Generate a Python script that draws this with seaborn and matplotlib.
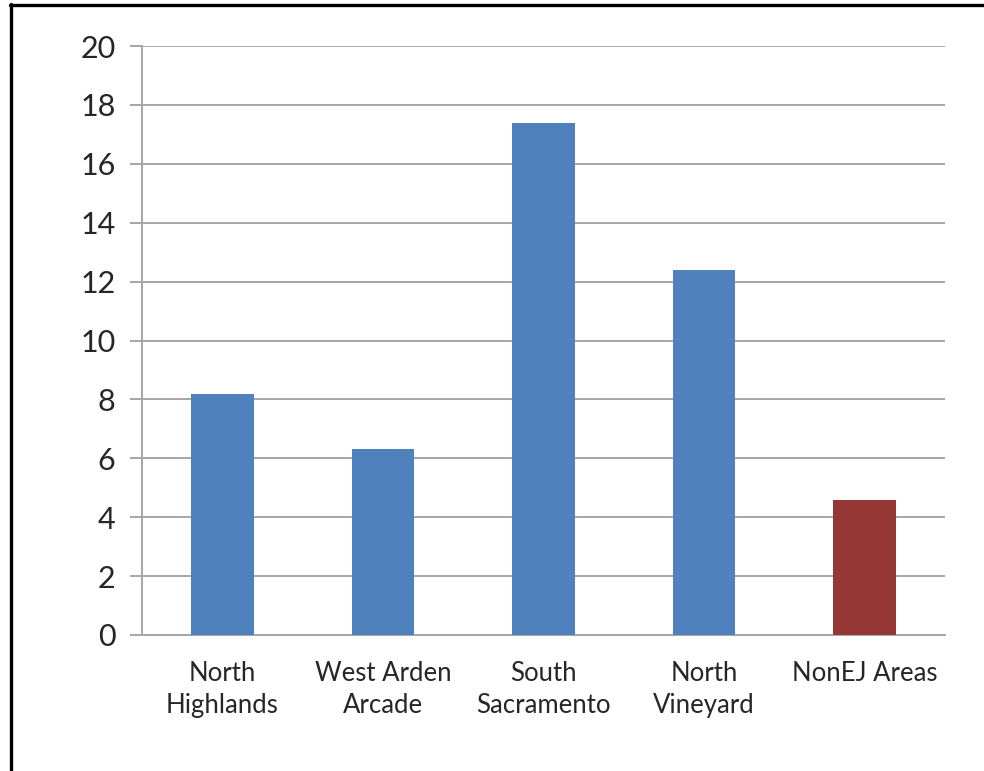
import numpy as np
import pandas as pd
import matplotlib
matplotlib.use("Agg")
import matplotlib.pyplot as plt
from matplotlib.lines import Line2D
from matplotlib.ticker import FixedLocator
import seaborn as sns

# data
areas = ["North\nHighlands", "West Arden\nArcade", "South\nSacramento",
         "North\nVineyard", "NonEJ Areas"]
values = [8.2, 6.3, 17.4, 12.4, 4.6]
group = ["EJ", "EJ", "EJ", "EJ", "NonEJ"]
y_ticks = list(range(0, 21, 2))

BLUE = "#4F81BD"
RED = "#953735"
GRID = "#A6A6A6"
TEXT = "#262626"

sns.set_style("white")
plt.rcParams['font.family'] = ['Lato', 'DejaVu Sans']

df = pd.DataFrame({"area": areas, "value": values, "group": group})

fig = plt.figure(figsize=(9.84, 7.71), dpi=100)
ax = fig.add_axes([142 / 984, 1 - 635 / 771, (945 - 142) / 984, (635 - 46) / 771])

sns.barplot(data=df, x="area", y="value", hue="group",
            palette={"EJ": BLUE, "NonEJ": RED}, dodge=False, saturation=1,
            width=0.39, legend=False, linewidth=0, ax=ax, zorder=3)

ax.set_xlim(-0.5, len(areas) - 0.5)
ax.set_ylim(0, 20)
ax.set_yticks(y_ticks)
ax.set_yticklabels([str(t) for t in y_ticks], fontsize=22, color=TEXT)
ax.yaxis.grid(True, color=GRID, linewidth=1.4, zorder=0)
ax.set_axisbelow(True)

# category labels at centres, tick marks at category boundaries
ax.set_xticks(range(len(areas)))
ax.set_xticklabels(areas, fontsize=18.5, color=TEXT, linespacing=1.32)
ax.tick_params(axis="x", which="major", length=0, pad=19)
ax.xaxis.set_minor_locator(FixedLocator(np.arange(-0.5, len(areas), 1.0)))
ax.tick_params(axis="x", which="minor", length=7, width=1.4, color=GRID, direction="out")
ax.tick_params(axis="y", length=9, width=1.4, color=GRID, direction="out", pad=10, left=True)

ax.set_xlabel("")
ax.set_ylabel("")
for side in ["top", "right"]:
    ax.spines[side].set_visible(False)
for side in ["left", "bottom"]:
    ax.spines[side].set_color(GRID)
    ax.spines[side].set_linewidth(1.4)

# partial black frame (top and left edges)
fig.add_artist(Line2D([10 / 984, 1.0], [1 - 5 / 771, 1 - 5 / 771],
                      color="black", linewidth=2.4, transform=fig.transFigure))
fig.add_artist(Line2D([10.5 / 984, 10.5 / 984], [0.0, 1 - 4 / 771],
                      color="black", linewidth=2.4, transform=fig.transFigure))

fig.savefig("out.png", dpi=100)
